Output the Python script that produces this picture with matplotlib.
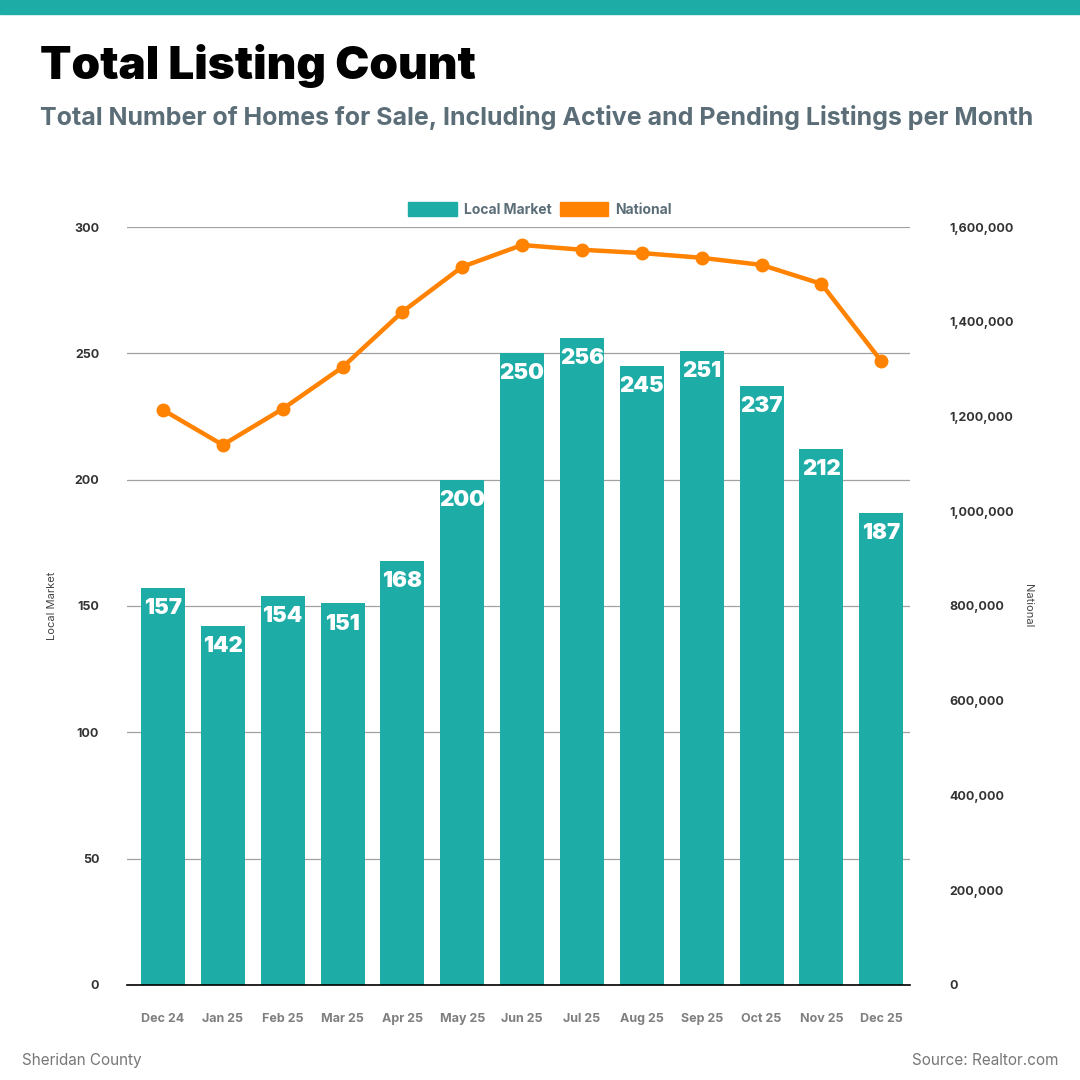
import matplotlib.pyplot as plt
from matplotlib.patches import Patch, Rectangle
from matplotlib.ticker import FuncFormatter

# data
months = ["Dec 24", "Jan 25", "Feb 25", "Mar 25", "Apr 25", "May 25", "Jun 25",
          "Jul 25", "Aug 25", "Sep 25", "Oct 25", "Nov 25", "Dec 25"]
local_market = [157, 142, 154, 151, 168, 200, 250, 256, 245, 251, 237, 212, 187]
national = [1214000, 1140000, 1216000, 1304000, 1421000, 1516000, 1562000,
            1552000, 1545000, 1535000, 1520000, 1480000, 1317000]

TEAL = "#1eaca6"
ORANGE = "#ff8200"
SLATE = "#5b6e78"

plt.rcParams['font.family'] = ['Inter', 'DejaVu Sans']

fig = plt.figure(figsize=(10.8, 10.8), dpi=100)

# top band
fig.patches.append(Rectangle((0, 1 - 14 / 1080), 1, 14 / 1080, transform=fig.transFigure,
                             color=TEAL, zorder=0))

fig.text(0.037, 0.927, "Total Listing Count", fontsize=33, fontweight="black", color="black")
fig.text(0.037, 0.884, "Total Number of Homes for Sale, Including Active and Pending Listings per Month",
         fontsize=18, fontweight="bold", color=SLATE)

ax = fig.add_axes([0.1176, 0.088, 0.725, 0.7018])
x = list(range(len(months)))
bars = ax.bar(x, local_market, width=0.735, color=TEAL, zorder=2)
for xi, v in zip(x, local_market):
    ax.text(xi, v - 4, str(v), ha="center", va="top", color="white",
            fontsize=16, fontweight="black", zorder=3)

ax.set_ylim(0, 300)
ax.set_yticks([0, 50, 100, 150, 200, 250, 300])
ax.set_xlim(-0.6, 12.48)
ax.set_xticks(x)
ax.set_xticklabels(months)
ax.grid(axis="y", color="#a0a0a0", linewidth=0.9, zorder=0)
ax.set_axisbelow(True)
for s in ["top", "left", "right"]:
    ax.spines[s].set_visible(False)
ax.spines["bottom"].set_color("black")
ax.spines["bottom"].set_linewidth(1.2)
ax.tick_params(axis="y", length=0, pad=20, labelsize=9, labelcolor="#333333")
ax.tick_params(axis="x", length=0, pad=20, labelsize=9, labelcolor="#7f7f7f")
for lab in ax.get_xticklabels() + ax.get_yticklabels():
    lab.set_fontweight("bold")
ax.set_ylabel("Local Market", fontsize=8, color="#444444")
ax.yaxis.set_label_coords(-0.09, 0.5)

ax2 = ax.twinx()
ax2.plot(x, national, color=ORANGE, linewidth=3.2, marker="o", markersize=9, zorder=4)
ax2.set_ylim(0, 1600000)
ax2.set_yticks(range(0, 1600001, 200000))
ax2.yaxis.set_major_formatter(FuncFormatter(lambda v, p: f"{int(v):,}"))
for s in ["top", "left", "right", "bottom"]:
    ax2.spines[s].set_visible(False)
ax2.tick_params(axis="y", length=0, pad=28, labelsize=9, labelcolor="#333333")
for lab in ax2.get_yticklabels():
    lab.set_fontweight("bold")
ax2.set_ylabel("National", fontsize=8, color="#444444", rotation=270, va="center")
ax2.yaxis.set_label_coords(1.151, 0.5)

handles = [Patch(color=TEAL, label="Local Market"), Patch(color=ORANGE, label="National")]
leg = fig.legend(handles=handles, loc="center", bbox_to_anchor=(0.5, 0.806), ncol=2,
                 frameon=False, handlelength=3.5, handleheight=1.2, handletextpad=0.5,
                 columnspacing=0.6, prop={"weight": "bold", "size": 10})
for t in leg.get_texts():
    t.set_color(SLATE)

fig.text(0.02, 0.014, "Sheridan County", fontsize=11, color="#777777")
fig.text(0.98, 0.014, "Source: Realtor.com", fontsize=11, color="#777777", ha="right")

fig.savefig("out.png", dpi=100)
